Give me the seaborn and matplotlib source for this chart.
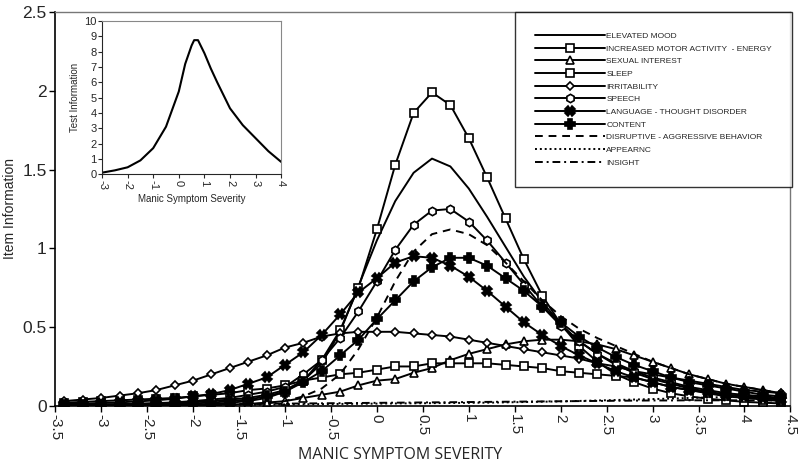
import numpy as np
import pandas as pd
import matplotlib
matplotlib.use("Agg")
import matplotlib.pyplot as plt
import seaborn as sns

# theta grid of the item information curves
theta = [-3.4, -3.2, -3.0, -2.8, -2.6, -2.4, -2.2, -2.0, -1.8, -1.6,
         -1.4, -1.2, -1.0, -0.8, -0.6, -0.4, -0.2, 0.0, 0.2, 0.4,
         0.6, 0.8, 1.0, 1.2, 1.4, 1.6, 1.8, 2.0, 2.2, 2.4,
         2.6, 2.8, 3.0, 3.2, 3.4, 3.6, 3.8, 4.0, 4.2, 4.4]

elevated_mood = [0.005, 0.006, 0.008, 0.01, 0.012, 0.015, 0.02, 0.025, 0.03, 0.04,
                 0.05, 0.07, 0.1, 0.16, 0.27, 0.47, 0.76, 1.05, 1.3, 1.48,
                 1.57, 1.52, 1.38, 1.2, 1.01, 0.82, 0.66, 0.52, 0.41, 0.33,
                 0.26, 0.21, 0.17, 0.14, 0.11, 0.09, 0.07, 0.06, 0.05, 0.04]
motor_activity = [0.002, 0.002, 0.003, 0.003, 0.004, 0.005, 0.006, 0.007, 0.01, 0.02,
                  0.03, 0.05, 0.09, 0.16, 0.29, 0.48, 0.75, 1.12, 1.53, 1.86,
                  1.99, 1.91, 1.70, 1.45, 1.19, 0.93, 0.70, 0.52, 0.38, 0.28,
                  0.2, 0.15, 0.11, 0.08, 0.06, 0.045, 0.035, 0.025, 0.02, 0.015]
sexual_interest = [0.0, 0.0, 0.0, 0.0, 0.001, 0.002, 0.003, 0.004, 0.006, 0.008,
                   0.012, 0.02, 0.03, 0.05, 0.07, 0.09, 0.13, 0.16, 0.17, 0.21,
                   0.24, 0.29, 0.33, 0.36, 0.39, 0.41, 0.42, 0.42, 0.41, 0.39,
                   0.36, 0.32, 0.28, 0.24, 0.2, 0.17, 0.14, 0.12, 0.1, 0.08]
sleep = [0.02, 0.025, 0.03, 0.035, 0.04, 0.045, 0.05, 0.06, 0.07, 0.08,
         0.1, 0.11, 0.13, 0.16, 0.18, 0.2, 0.21, 0.23, 0.25, 0.25,
         0.27, 0.27, 0.27, 0.27, 0.26, 0.25, 0.24, 0.22, 0.21, 0.2,
         0.19, 0.18, 0.15, 0.12, 0.1, 0.08, 0.06, 0.05, 0.04, 0.03]
irritability = [0.03, 0.04, 0.05, 0.065, 0.08, 0.1, 0.13, 0.16, 0.2, 0.24,
                0.28, 0.32, 0.37, 0.4, 0.44, 0.46, 0.47, 0.47, 0.47, 0.46,
                0.45, 0.44, 0.42, 0.4, 0.38, 0.36, 0.34, 0.32, 0.3, 0.27,
                0.25, 0.22, 0.2, 0.18, 0.16, 0.14, 0.12, 0.1, 0.09, 0.08]
speech = [0.005, 0.006, 0.008, 0.01, 0.013, 0.017, 0.022, 0.03, 0.04, 0.05,
          0.07, 0.09, 0.12, 0.2, 0.29, 0.43, 0.6, 0.79, 0.99, 1.15,
          1.24, 1.25, 1.17, 1.05, 0.91, 0.77, 0.63, 0.51, 0.41, 0.33,
          0.27, 0.22, 0.18, 0.15, 0.12, 0.1, 0.08, 0.07, 0.06, 0.05]
language_thought = [0.011, 0.014, 0.018, 0.022, 0.028, 0.035, 0.045, 0.06, 0.075, 0.1,
                    0.14, 0.18, 0.26, 0.34, 0.45, 0.58, 0.72, 0.81, 0.91, 0.95,
                    0.94, 0.89, 0.82, 0.73, 0.63, 0.53, 0.45, 0.38, 0.32, 0.27,
                    0.22, 0.18, 0.15, 0.12, 0.1, 0.085, 0.07, 0.06, 0.05, 0.04]
content = [0.003, 0.004, 0.005, 0.006, 0.008, 0.01, 0.013, 0.016, 0.02, 0.03,
           0.04, 0.06, 0.09, 0.15, 0.22, 0.32, 0.42, 0.55, 0.67, 0.79,
           0.88, 0.94, 0.94, 0.89, 0.81, 0.73, 0.63, 0.53, 0.44, 0.37,
           0.31, 0.26, 0.22, 0.18, 0.15, 0.13, 0.11, 0.09, 0.07, 0.06]
disruptive = [0.0, 0.0, 0.0, 0.0, 0.0, 0.001, 0.001, 0.002, 0.003, 0.005,
              0.01, 0.015, 0.03, 0.06, 0.11, 0.2, 0.36, 0.56, 0.79, 0.98,
              1.09, 1.12, 1.09, 1.02, 0.91, 0.79, 0.67, 0.57, 0.49, 0.43,
              0.38, 0.33, 0.28, 0.24, 0.2, 0.17, 0.14, 0.12, 0.1, 0.08]
appearance = [0.001, 0.001, 0.002, 0.002, 0.003, 0.003, 0.004, 0.004, 0.005, 0.006,
              0.007, 0.008, 0.009, 0.01, 0.011, 0.012, 0.013, 0.014, 0.015, 0.016,
              0.017, 0.018, 0.019, 0.02, 0.022, 0.024, 0.026, 0.028, 0.031, 0.034,
              0.037, 0.04, 0.043, 0.046, 0.05, 0.053, 0.055, 0.057, 0.058, 0.058]
insight = [0.003, 0.004, 0.005, 0.005, 0.006, 0.007, 0.008, 0.009, 0.01, 0.011,
           0.012, 0.013, 0.014, 0.015, 0.016, 0.017, 0.018, 0.019, 0.02, 0.021,
           0.022, 0.023, 0.024, 0.025, 0.026, 0.027, 0.028, 0.029, 0.03, 0.031,
           0.032, 0.033, 0.034, 0.034, 0.035, 0.035, 0.035, 0.035, 0.034, 0.034]

# test information (inset)
test_theta = [-3.0, -2.5, -2.0, -1.5, -1.0, -0.5, 0.0, 0.25, 0.5, 0.6,
              0.75, 1.0, 1.25, 1.5, 2.0, 2.5, 3.0, 3.5, 4.0]
test_info = [0.1, 0.25, 0.45, 0.9, 1.7, 3.1, 5.4, 7.2, 8.4, 8.75,
             8.75, 7.9, 6.9, 6.0, 4.3, 3.2, 2.35, 1.5, 0.8]

items = [
    ("ELEVATED MOOD", elevated_mood, "-", None),
    ("INCREASED MOTOR ACTIVITY  - ENERGY", motor_activity, "-", "s"),
    ("SEXUAL INTEREST", sexual_interest, "-", "^"),
    ("SLEEP", sleep, "-", "s"),
    ("IRRITABILITY", irritability, "-", "D"),
    ("SPEECH", speech, "-", "h"),
    ("LANGUAGE - THOUGHT DISORDER", language_thought, "-", "X"),
    ("CONTENT", content, "-", "P"),
    ("DISRUPTIVE - AGGRESSIVE BEHAVIOR", disruptive, (0, (4, 3)), None),
    ("APPEARNC", appearance, (0, (1, 1.5)), None),
    ("INSIGHT", insight, (0, (4, 2, 1, 2)), None),
]

sns.set_style("ticks")
plt.rcParams["font.family"] = ["Liberation Sans", "DejaVu Sans"]

fig = plt.figure(figsize=(8, 4.67), dpi=100)
ax = fig.add_axes([0.069, 0.131, 0.919, 0.843])

msizes = {"s": 6, "^": 6, "D": 4.5, "h": 6, "X": 6.5, "P": 7}
for name, vals, ls, mk in items:
    kw = dict(color="black", linewidth=1.4, linestyle=ls)
    if mk is not None:
        kw.update(marker=mk, markersize=msizes[mk], markerfacecolor="white",
                  markeredgecolor="black", markeredgewidth=1.2)
        if mk in ("X", "P"):
            kw.update(markerfacecolor="black")
    sns.lineplot(x=theta, y=vals, ax=ax, label=name, **kw)

ax.set_xlim(-3.5, 4.5)
ax.set_ylim(0, 2.5)
ax.set_xticks(np.arange(-3.5, 4.51, 0.5))
ax.set_xticklabels([f"{v:g}" for v in np.arange(-3.5, 4.51, 0.5)],
                   rotation=-90, fontsize=11)
ax.set_yticks([0, 0.5, 1, 1.5, 2, 2.5])
ax.set_yticklabels(["0", "0.5", "1", "1.5", "2", "2.5"], fontsize=12.5)
ax.tick_params(direction="out", length=4, width=1, color="black", pad=2)
ax.set_xlabel("MANIC SYMPTOM SEVERITY", fontsize=11.5, family="Open Sans",
              labelpad=6)
ax.xaxis.set_label_coords(0.469, -0.105)
ax.set_ylabel("Item Information", fontsize=10, labelpad=4)
for s in ["left", "bottom"]:
    ax.spines[s].set_color("black")
    ax.spines[s].set_linewidth(1.2)
for s in ["top", "right"]:
    ax.spines[s].set_color("#777777")
    ax.spines[s].set_linewidth(1.0)

leg = ax.legend(loc="upper right", bbox_to_anchor=(1.002, 1.0), fontsize=6,
                frameon=True, fancybox=False, edgecolor="black",
                handlelength=8.3, handletextpad=0.2, labelspacing=0.58,
                borderpad=2.4, borderaxespad=0.0, numpoints=1)
leg.get_frame().set_linewidth(1.0)

# inset with test information
axin = fig.add_axes([0.1275, 0.627, 0.224, 0.328])
sns.lineplot(x=test_theta, y=test_info, ax=axin, color="black", linewidth=1.5)
axin.set_xlim(-3, 4)
axin.set_ylim(0, 10)
axin.set_xticks(range(-3, 5))
axin.set_xticklabels([str(v) for v in range(-3, 5)], rotation=-90, fontsize=8)
axin.set_yticks(range(0, 11))
axin.set_yticklabels([str(v) for v in range(0, 11)], fontsize=8)
axin.tick_params(direction="out", length=3, width=0.8, pad=1)
axin.set_xlabel("Manic Symptom Severity", fontsize=7, labelpad=3)
axin.set_ylabel("Test Information", fontsize=7, labelpad=3)
for s in ["top", "right"]:
    axin.spines[s].set_color("#888888")

fig.savefig("out.png", dpi=100)
